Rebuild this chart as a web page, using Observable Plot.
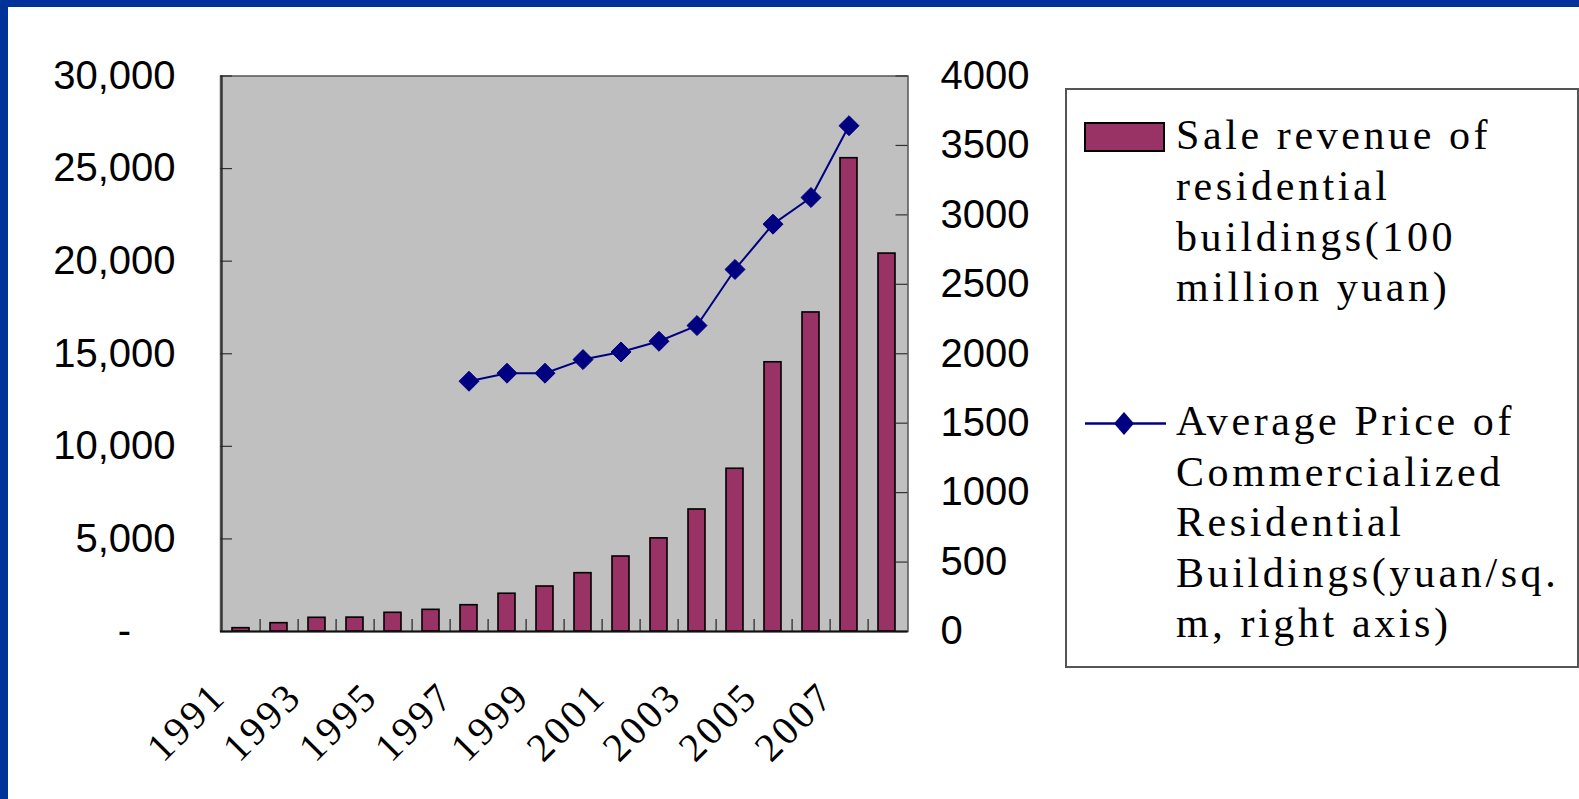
<!DOCTYPE html>
<html>
<head>
<meta charset="utf-8">
<script src="https://cdn.jsdelivr.net/npm/d3@7"></script>
<script src="https://cdn.jsdelivr.net/npm/@observablehq/plot@0.6"></script>
<style>
  html, body { margin: 0; padding: 0; background: #fff; }
  #page { position: relative; width: 1579px; height: 799px; overflow: hidden; background: #fff; }
  #edgeLeft { position: absolute; left: 0; top: 0; width: 8px; height: 799px; background: #003399; }
  #edgeTop { position: absolute; left: 0; top: 0; width: 1579px; height: 7px; background: #003399; }
  #chart { position: absolute; left: 0; top: 0; }
  #chart svg { display: block; }
  #legend { position: absolute; left: 0; top: 0; }
</style>
</head>
<body>
<div id="page">
  <div id="chart"></div>
  <svg id="legend" width="1579" height="799"></svg>
  <div id="edgeLeft"></div>
  <div id="edgeTop"></div>
</div>
<script>
// Years on the category axis
const years = [1991, 1992, 1993, 1994, 1995, 1996, 1997, 1998, 1999,
               2000, 2001, 2002, 2003, 2004, 2005, 2006, 2007, 2008];
// Sale revenue of residential buildings (100 million yuan), left axis
const revenue = [180, 450, 740, 750, 1010, 1170, 1420, 2040, 2430,
                 3150, 4050, 5030, 6590, 8790, 14540, 17230, 25560, 20410];
// Average price of commercialized residential buildings (yuan/sq. m), right axis
const priceYears = [1997, 1998, 1999, 2000, 2001, 2002, 2003, 2004, 2005, 2006, 2007];
const price = [1802, 1860, 1860, 1958, 2013, 2090, 2203, 2607, 2933, 3125, 3642];
// Tick values and labels
const leftTicks = [0, 5000, 10000, 15000, 20000, 25000, 30000];
const rightTicks = [0, 500, 1000, 1500, 2000, 2500, 3000, 3500, 4000];
const labelYears = [1991, 1993, 1995, 1997, 1999, 2001, 2003, 2005, 2007];

const revenueRows = years.map((year, i) => ({year, value: revenue[i]}));
const priceRows = priceYears.map((year, i) => ({year, price: price[i]}));

// The price series shares the left y scale: 4000 on the right equals 30,000 on the left
const ratio = 30000 / 4000;

const W = 1060, H = 799;
const mL = 220, mR = 152.5, mT = 75.5, mB = 168;
const plotW = W - mL - mR;
const step = plotW / years.length;
const sans = "'Liberation Sans', Arial, sans-serif";
const serif = "'Liberation Serif', 'Times New Roman', serif";

const chart = Plot.plot({
  width: W,
  height: H,
  marginLeft: mL, marginRight: mR, marginTop: mT, marginBottom: mB,
  style: {background: "transparent", overflow: "visible"},
  x: {type: "band", domain: years, paddingInner: 0.55, paddingOuter: 0.275, label: null},
  y: {domain: [0, 30000], label: null},
  marks: [
    Plot.frame({fill: "#c0c0c0", stroke: "#555", strokeWidth: 1.5}),
    Plot.barY(revenueRows, {x: "year", y: "value", fill: "#993366", stroke: "#000", strokeWidth: 1.6}),
    // category separators on the x axis, pointing into the plot
    Plot.ruleX(years.slice(0, -1), {x: d => d, dx: step / 2, y1: 0, y2: 650, stroke: "#222", strokeWidth: 1.2}),
    // inward ticks on both value axes
    Plot.tickY(leftTicks, {y: d => d, insetRight: plotW - 12, stroke: "#333", strokeWidth: 1.2}),
    Plot.tickY(rightTicks, {y: d => d * ratio, insetLeft: plotW - 12, stroke: "#333", strokeWidth: 1.2}),
    Plot.ruleX([years[0]], {x: d => d, dx: -step / 2, y1: 0, y2: 30000, stroke: "#222", strokeWidth: 1.5}),
    Plot.ruleY([0], {stroke: "#111", strokeWidth: 2}),
    Plot.line(priceRows, {x: "year", y: d => d.price * ratio, stroke: "#000080", strokeWidth: 2}),
    Plot.dot(priceRows, {x: "year", y: d => d.price * ratio, symbol: "diamond2", r: 9, fill: "#000080", stroke: "#000080", strokeWidth: 1}),
    Plot.axisY({
      anchor: "left", ticks: leftTicks, tickSize: 0, tickPadding: 45, label: null,
      tickFormat: d => d === 0 ? "-\u00a0\u00a0\u00a0\u00a0" : d3.format(",")(d),
      fontSize: 40, fontFamily: sans, fill: "#000"
    }),
    Plot.axisY({
      anchor: "right", ticks: rightTicks.map(v => v * ratio), tickSize: 0, tickPadding: 32.5, label: null,
      tickFormat: d => String(Math.round(d / ratio)),
      fontSize: 40, fontFamily: sans, fill: "#000"
    }),
    Plot.axisX({
      ticks: labelYears, tickSize: 0, tickRotate: -45, tickPadding: 58, dx: -22, label: null,
      tickFormat: d => String(d),
      fontSize: 40, fontFamily: serif, fill: "#000", fontWeight: 300,
      letterSpacing: 3
    })
  ]
});
document.getElementById("chart").appendChild(chart);
// Wider digit spacing for the year labels
d3.select(chart).selectAll("g[aria-label='x-axis tick label'] text").attr("letter-spacing", 3);

// Legend
const lg = d3.select("#legend");
const legendFont = serif;
lg.append("rect")
  .attr("x", 1066).attr("y", 89).attr("width", 512).attr("height", 578)
  .attr("fill", "#fff").attr("stroke", "#555").attr("stroke-width", 2);

lg.append("rect")
  .attr("x", 1085).attr("y", 123).attr("width", 79).attr("height", 28)
  .attr("fill", "#993366").attr("stroke", "#000").attr("stroke-width", 2);

lg.append("line")
  .attr("x1", 1085).attr("x2", 1166).attr("y1", 423.5).attr("y2", 423.5)
  .attr("stroke", "#000080").attr("stroke-width", 2.5);
lg.append("path")
  .attr("d", "M1124,412 L1134,423.5 L1124,435 L1114,423.5 Z")
  .attr("fill", "#000080");

const entries = [
  {y: 149.3, lines: ["Sale revenue of", "residential", "buildings(100", "million yuan)"]},
  {y: 435, lines: ["Average Price of", "Commercialized", "Residential", "Buildings(yuan/sq.", "m, right axis)"]}
];
for (const e of entries) {
  const t = lg.append("text")
    .attr("x", 1176).attr("y", e.y)
    .attr("font-family", legendFont).attr("font-size", 42)
    .attr("letter-spacing", 3.6)
    .attr("fill", "#000");
  e.lines.forEach((s, i) => {
    t.append("tspan").attr("x", 1176).attr("dy", i === 0 ? 0 : 50.6).text(s);
  });
}
</script>
</body>
</html>
